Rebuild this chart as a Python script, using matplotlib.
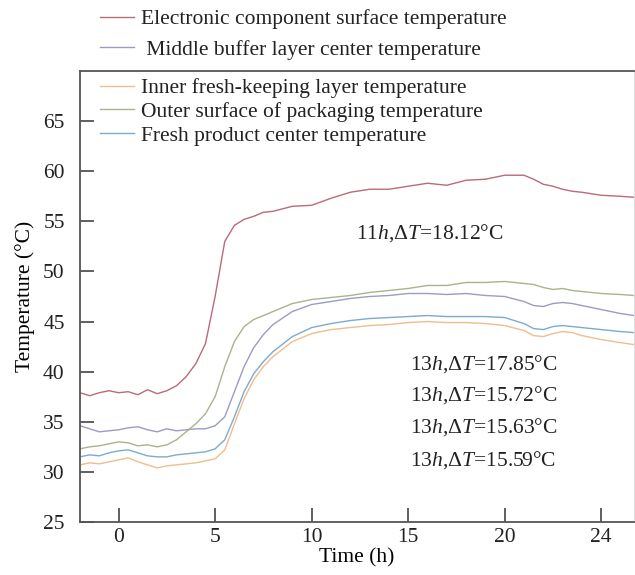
import numpy as np
import matplotlib
matplotlib.use("Agg")
import matplotlib.pyplot as plt

plt.rcParams['font.family'] = ['Liberation Serif', 'DejaVu Serif']
plt.rcParams['mathtext.fontset'] = 'custom'
plt.rcParams['mathtext.rm'] = 'Liberation Serif'
plt.rcParams['mathtext.it'] = 'Liberation Serif:italic'

# ---------------------------
# Data
# ---------------------------
time_h = [-2, -1.5, -1, -0.5, 0, 0.5, 1, 1.5, 2, 2.5,
          3, 3.5, 4, 4.5, 5, 5.5, 6, 6.5, 7, 7.5,
          8, 9, 10, 11, 12, 13, 14, 15, 16, 17,
          18, 19, 20, 21, 21.5, 22, 22.5, 23, 23.5, 24,
          25, 26, 26.7]

electronic = [37.9, 37.6, 37.9, 38.1, 37.9, 38.0, 37.7, 38.2, 37.8, 38.1,
              38.6, 39.5, 40.8, 42.8, 47.5, 53.0, 54.6, 55.2, 55.5, 55.9,
              56.0, 56.5, 56.6, 57.3, 57.9, 58.2, 58.2, 58.5, 58.8, 58.6,
              59.1, 59.2, 59.6, 59.6, 59.2, 58.7, 58.5, 58.2, 58.0, 57.9,
              57.6, 57.5, 57.4]

middle = [34.6, 34.3, 34.0, 34.1, 34.2, 34.4, 34.5, 34.2, 34.0, 34.3,
          34.1, 34.2, 34.3, 34.3, 34.6, 35.5, 38.0, 40.5, 42.4, 43.7,
          44.7, 46.0, 46.7, 47.0, 47.3, 47.5, 47.6, 47.8, 47.8, 47.7,
          47.8, 47.6, 47.5, 47.0, 46.6, 46.5, 46.8, 46.9, 46.8, 46.6,
          46.2, 45.8, 45.6]

inner = [30.7, 30.9, 30.8, 31.0, 31.2, 31.4, 31.0, 30.7, 30.4, 30.6,
         30.7, 30.8, 30.9, 31.1, 31.3, 32.2, 34.8, 37.3, 39.2, 40.5,
         41.5, 43.0, 43.8, 44.2, 44.4, 44.6, 44.7, 44.9, 45.0, 44.9,
         44.9, 44.8, 44.6, 44.1, 43.6, 43.5, 43.8, 44.0, 43.9, 43.6,
         43.2, 42.9, 42.7]

outer = [32.3, 32.5, 32.6, 32.8, 33.0, 32.9, 32.6, 32.7, 32.5, 32.7,
         33.2, 34.0, 34.8, 35.8, 37.5, 40.5, 43.0, 44.5, 45.2, 45.6,
         46.0, 46.8, 47.2, 47.4, 47.6, 47.9, 48.1, 48.3, 48.6, 48.6,
         48.9, 48.9, 49.0, 48.8, 48.7, 48.4, 48.2, 48.3, 48.1, 48.0,
         47.8, 47.7, 47.6]

fresh = [31.5, 31.7, 31.6, 31.9, 32.1, 32.2, 31.9, 31.6, 31.5, 31.5,
         31.7, 31.8, 31.9, 32.0, 32.3, 33.2, 35.5, 38.0, 39.8, 41.0,
         42.0, 43.5, 44.4, 44.8, 45.1, 45.3, 45.4, 45.5, 45.6, 45.5,
         45.5, 45.5, 45.4, 44.8, 44.3, 44.2, 44.5, 44.6, 44.5, 44.4,
         44.2, 44.0, 43.9]

x_ticks = [0, 5, 10, 15, 20, 25]
x_tick_labels = ["0", "5", "10", "15", "20", "24"]
y_ticks = [25, 30, 35, 40, 45, 50, 55, 60, 65]

notes = [r"11$\mathit{h}$,Δ$\mathit{T}$=18.12°C",
         r"13$\mathit{h}$,Δ$\mathit{T}$=17.85°C",
         r"13$\mathit{h}$,Δ$\mathit{T}$=15.72°C",
         r"13$\mathit{h}$,Δ$\mathit{T}$=15.63°C",
         r"13$\mathit{h}$,Δ$\mathit{T}$=15.59°C"]
note_pos = [(12.3, 53.8), (15.1, 40.8), (15.1, 37.7), (15.1, 34.5), (15.1, 31.2)]

# ---------------------------
# Figure
# ---------------------------
fig = plt.figure(figsize=(6.35, 5.75), dpi=100)
ax = fig.add_axes([80 / 635, 53 / 575, 554 / 635, 451 / 575])

fs = 15.5
lw = 1.0
h_el, = ax.plot(time_h, electronic, color='#b86b7a', lw=lw,
                label="Electronic component surface temperature")
h_mid, = ax.plot(time_h, middle, color='#9a9cc4', lw=lw,
                 label=" Middle buffer layer center temperature")
h_in, = ax.plot(time_h, inner, color='#f0bd8c', lw=lw,
                label="Inner fresh-keeping layer temperature")
h_out, = ax.plot(time_h, outer, color='#a9b48a', lw=lw,
                 label="Outer surface of packaging temperature")
h_fr, = ax.plot(time_h, fresh, color='#7dabd0', lw=lw,
                label="Fresh product center temperature")

ax.set_xlim(-2, 26.7)
ax.set_ylim(25, 70)
ax.set_xticks(x_ticks)
ax.set_xticklabels(x_tick_labels)
ax.set_yticks(y_ticks)
ax.tick_params(axis='both', direction='in', length=10, width=1.2,
               color='#444444', labelsize=fs, labelcolor='#222222')
ax.tick_params(axis='y', pad=11)
ax.tick_params(axis='x', pad=4)

for side in ['left', 'bottom', 'top']:
    ax.spines[side].set_color('#555555')
    ax.spines[side].set_linewidth(1.3)
ax.spines['right'].set_color('#dddddd')
ax.spines['right'].set_linewidth(0.8)

ax.set_xlabel("Time (h)", fontsize=fs, labelpad=1)
ax.set_ylabel("Temperature (°C)", fontsize=fs, labelpad=6)

for txt, (xn, yn) in zip(notes, note_pos):
    ax.text(xn, yn, txt, fontsize=fs, color='#222222', va='center', ha='left')

leg_kw = dict(frameon=False, fontsize=fs, handlelength=1.6, handletextpad=0.3,
              borderaxespad=0, borderpad=0)
leg1 = fig.legend(handles=[h_el, h_mid], loc='upper left',
                  bbox_to_anchor=(100 / 635, 1 - 9 / 575), labelspacing=0.5,
                  **leg_kw)
leg2 = ax.legend(handles=[h_in, h_out, h_fr], loc='upper left',
                 bbox_to_anchor=(20 / 554, 1 - 7 / 451), labelspacing=0.18,
                 **leg_kw)
for leg in (leg1, leg2):
    for t in leg.get_texts():
        t.set_color('#222222')

fig.savefig("out.png", dpi=100)
